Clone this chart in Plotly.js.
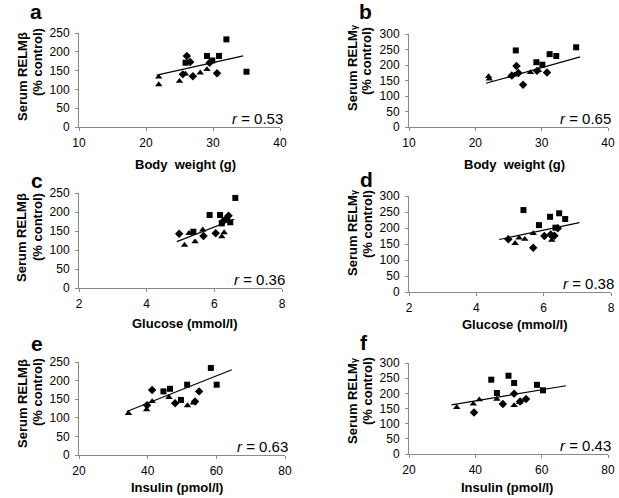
<!DOCTYPE html>
<html><head><meta charset="utf-8">
<script src="https://cdn.plot.ly/plotly-3.0.1.min.js"></script>
<style>html,body{margin:0;padding:0;background:#fff;}#chart{width:619px;height:498px;}</style>
</head><body><div id="chart"></div>
<script>
// ---- Data ----
// Panel a: body weight vs RELMbeta
const aSqX = [32.0, 29.1, 30.9, 35.0, 25.9, 29.9];
const aSqY = [233, 189, 189, 147, 171, 177];
const aDiX = [26.1, 26.6, 29.5, 27.0, 30.6, 25.5];
const aDiY = [189, 173, 171, 135, 143, 140];
const aTrX = [21.9, 21.9, 25.0, 25.9, 28.1, 29.1];
const aTrY = [133, 113, 122, 141, 144, 153];
const aFitX = [21.6, 34.5];
const aFitY = [138, 189];
// Panel b: body weight vs RELMgamma
const bSqX = [26.1, 31.2, 32.2, 35.2, 29.2, 30.1];
const bSqY = [247, 235, 229, 257, 209, 201];
const bDiX = [26.2, 27.2, 30.8, 29.3, 26.5, 25.5];
const bDiY = [197, 136, 176, 181, 174, 166];
const bTrX = [22.0, 22.1, 25.3, 28.3, 29.5, 25.9];
const bTrY = [163, 155, 164, 176, 183, 168];
const bFitX = [21.6, 35.8];
const bFitY = [141, 226];
// Panel c: glucose vs RELMbeta
const cSqX = [6.62, 5.86, 6.17, 5.38, 6.47, 6.22];
const cSqY = [237, 192, 192, 148, 173, 170];
const cDiX = [4.96, 5.68, 6.04, 6.42, 6.25, 6.35];
const cDiY = [143, 137, 144, 190, 175, 182];
const cTrX = [5.12, 5.25, 5.43, 5.66, 6.22, 6.29];
const cTrY = [113, 144, 122, 153, 135, 146];
const cFitX = [4.89, 6.59];
const cFitY = [122, 181];
// Panel d: glucose vs RELMgamma
const dSqX = [5.40, 6.19, 6.46, 6.64, 5.86, 6.35];
const dSqY = [256, 235, 246, 228, 209, 201];
const dDiX = [4.95, 5.69, 6.02, 6.21, 6.32, 6.42];
const dDiY = [165, 138, 175, 180, 176, 199];
const dTrX = [5.15, 5.27, 5.44, 5.69, 6.24, 6.26];
const dTrY = [152, 169, 165, 183, 162, 175];
const dFitX = [4.68, 7.06];
const dFitY = [164, 217];
// Panel e: insulin vs RELMbeta
const eSqX = [58.4, 60.1, 51.5, 44.6, 46.5, 49.7];
const eSqY = [234, 189, 189, 171, 178, 148];
const eDiX = [41.3, 48.0, 55.0, 53.8, 39.8];
const eDiY = [175, 139, 171, 144, 134];
const eTrX = [34.4, 39.7, 41.3, 46.2, 51.6, 53.3];
const eTrY = [112, 122, 144, 155, 133, 140];
const eFitX = [33.9, 64.5];
const eFitY = [117, 229];
// Panel f: insulin vs RELMgamma
const fSqX = [44.8, 50.0, 51.7, 46.5, 58.6, 60.4];
const fSqY = [245, 258, 234, 201, 228, 210];
const fDiX = [39.6, 48.3, 51.7, 55.3, 53.5];
const fDiY = [137, 165, 199, 181, 173];
const fTrX = [34.4, 39.4, 41.2, 46.5, 51.7, 53.3];
const fTrY = [154, 165, 179, 181, 160, 170];
const fFitX = [32.8, 67.3];
const fFitY = [162, 225];

const letters = ['a','b','c','d','e','f'];
const rValues = ['0.53','0.65','0.36','0.38','0.63','0.43'];
const xTitles = ['Body  weight (g)','Body  weight (g)','Glucose (mmol/l)','Glucose (mmol/l)','Insulin (pmol/l)','Insulin (pmol/l)'];
const xRanges = [[10,40],[10,40],[2,8],[2,8],[20,80],[20,80]];
const xDtick = [10,10,2,2,20,20];
const yRanges = [[0,250],[0,300],[0,250],[0,300],[0,250],[0,300]];

const panels = [
  {sqX:aSqX,sqY:aSqY,diX:aDiX,diY:aDiY,trX:aTrX,trY:aTrY,fx:aFitX,fy:aFitY},
  {sqX:bSqX,sqY:bSqY,diX:bDiX,diY:bDiY,trX:bTrX,trY:bTrY,fx:bFitX,fy:bFitY},
  {sqX:cSqX,sqY:cSqY,diX:cDiX,diY:cDiY,trX:cTrX,trY:cTrY,fx:cFitX,fy:cFitY},
  {sqX:dSqX,sqY:dSqY,diX:dDiX,diY:dDiY,trX:dTrX,trY:dTrY,fx:dFitX,fy:dFitY},
  {sqX:eSqX,sqY:eSqY,diX:eDiX,diY:eDiY,trX:eTrX,trY:eTrY,fx:eFitX,fy:eFitY},
  {sqX:fSqX,sqY:fSqY,diX:fDiX,diY:fDiY,trX:fTrX,trY:fTrY,fx:fFitX,fy:fFitY}
];

// ---- Layout geometry (pixels) ----
const W = 619, H = 498;
const boxes = [ // [left, right, top, bottom]
  [79, 280, 33, 127],
  [409, 608, 34, 127],
  [79, 282, 193, 288],
  [409, 611, 196, 292],
  [79, 285, 362, 455],
  [409, 608, 363, 454]
];
const letterPos = [[36,11],[365,11],[37,180],[366,179],[37,343],[364,342]];
const xTitlePos = [[185,164],[514,164],[184,323],[514,324],[177,487],[507,487]];
const yT1 = [[22,77],[352,68],[22,238],[352,233],[22,404],[352,401]];
const yT2 = [[37,62],[367,61],[37,227],[367,224],[37,392],[367,391]];

const FONT = 'Liberation Sans, Arial, sans-serif';
const traces = [];
const layout = {
  width: W, height: H, margin: {l:0,r:0,t:0,b:0},
  paper_bgcolor: '#fff', plot_bgcolor: '#fff', showlegend: false,
  font: {family: FONT, color: '#000', size: 12},
  annotations: []
};
const px = x => x / W;
const py = y => 1 - y / H;

panels.forEach((p, i) => {
  const n = i === 0 ? '' : String(i + 1);
  const xa = 'x' + n, ya = 'y' + n;
  const common = {xaxis: xa, yaxis: ya, type: 'scatter', hoverinfo: 'skip'};
  traces.push(Object.assign({x: p.fx, y: p.fy, mode: 'lines', line: {color: '#000', width: 1.2}}, common));
  traces.push(Object.assign({x: p.sqX, y: p.sqY, mode: 'markers', marker: {symbol: 'square', size: 6, color: '#000'}}, common));
  traces.push(Object.assign({x: p.diX, y: p.diY, mode: 'markers', marker: {symbol: 'diamond', size: 6.5, color: '#000'}}, common));
  traces.push(Object.assign({x: p.trX, y: p.trY, mode: 'markers', marker: {symbol: 'triangle-up', size: 6.5, color: '#000'}}, common));
  const b = boxes[i];
  const axBase = {
    showgrid: false, zeroline: false, showline: true, linecolor: '#8a8a8a', linewidth: 1,
    ticks: 'outside', ticklen: 3, tickcolor: '#8a8a8a', tickfont: {family: FONT, size: 12, color: '#000'},
    fixedrange: true
  };
  layout['xaxis' + n] = Object.assign({}, axBase, {
    domain: [px(b[0]), px(b[1])], range: xRanges[i], dtick: xDtick[i], tick0: 0,
    anchor: ya, ticklabelstandoff: 2
  });
  layout['yaxis' + n] = Object.assign({}, axBase, {
    domain: [py(b[3]), py(b[2])], range: yRanges[i], dtick: 50, tick0: 0,
    anchor: xa, ticklabelstandoff: 3
  });
  const ann = (x, y, text, opts) => layout.annotations.push(Object.assign({
    xref: 'paper', yref: 'paper', x: px(x), y: py(y), text: text, showarrow: false,
    xanchor: 'center', yanchor: 'middle', font: {family: FONT, size: 13, color: '#000'}
  }, opts || {}));
  ann(letterPos[i][0], letterPos[i][1], '<b>' + letters[i] + '</b>', {font: {family: FONT, size: 21, color: '#000'}});
  ann(xTitlePos[i][0], xTitlePos[i][1], '<b>' + xTitles[i] + '</b>', {font: {family: FONT, size: 13, color: '#000'}});
  const rel = (i % 2 === 0) ? 'Serum RELMβ' : 'Serum RELM<span style="font-size:9px">γ</span>';
  ann(yT1[i][0], yT1[i][1], '<b>' + rel + '</b>', {textangle: -90});
  ann(yT2[i][0], yT2[i][1], '<b>(% control)</b>', {textangle: -90});
  ann(b[1] + 5, b[3] - 9, '<i>r</i> = ' + rValues[i], {xanchor: 'right', font: {family: FONT, size: 15, color: '#000'}});
});

Plotly.newPlot('chart', traces, layout, {staticPlot: true, displayModeBar: false});
</script>
</body></html>
